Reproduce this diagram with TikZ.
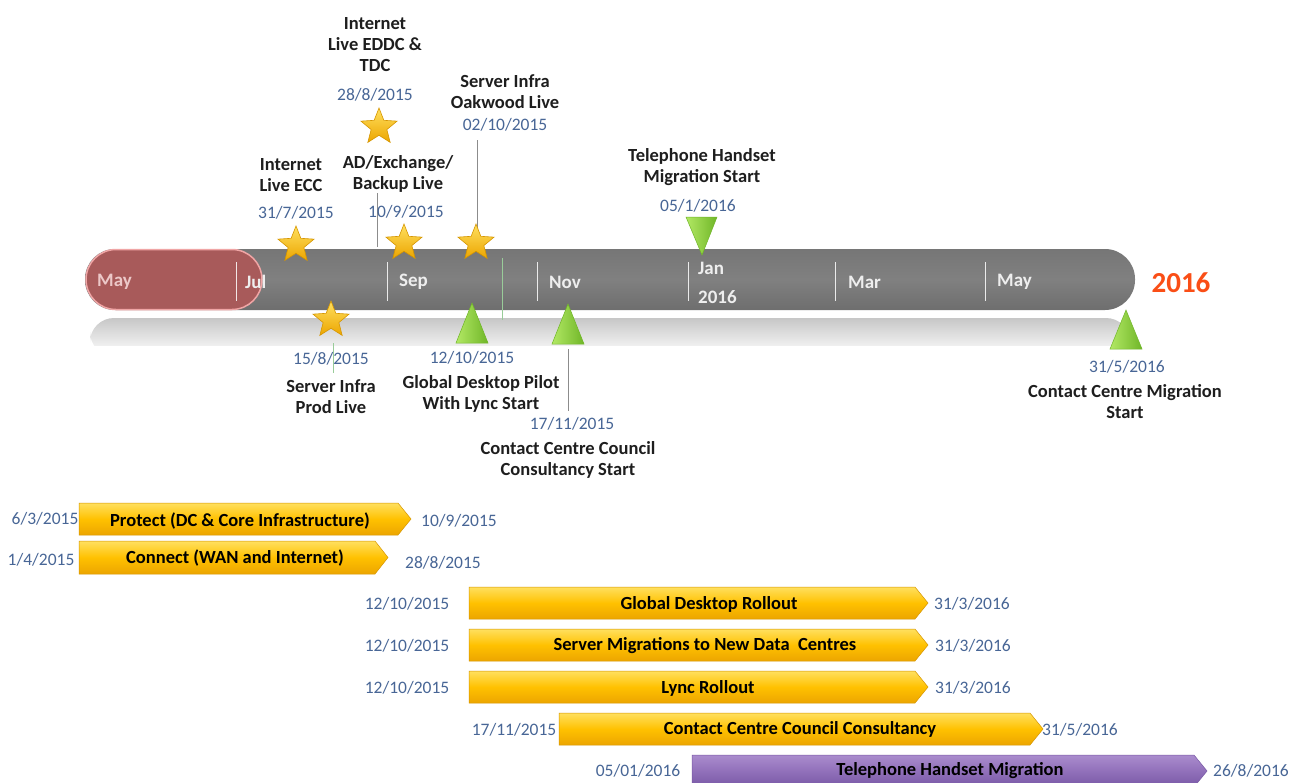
\documentclass[tikz,border=0pt]{standalone}
\usepackage{fontspec}
\setmainfont{Carlito}
\usetikzlibrary{shapes.geometric}
\definecolor{datecol}{RGB}{72,102,150}
\definecolor{labcol}{RGB}{30,30,30}
\definecolor{moncol}{RGB}{238,238,238}
\definecolor{monred}{RGB}{236,200,200}
\definecolor{barcol}{RGB}{128,128,128}
\definecolor{bartop}{RGB}{118,118,118}
\definecolor{barbot}{RGB}{110,110,110}
\definecolor{redbar}{RGB}{168,90,90}
\definecolor{redrim}{RGB}{240,165,165}
\definecolor{yearcol}{RGB}{250,78,22}
\definecolor{goldtop}{RGB}{255,224,95}
\definecolor{goldmid}{RGB}{255,193,0}
\definecolor{goldbot}{RGB}{236,165,0}
\definecolor{goldedge}{RGB}{214,150,0}
\definecolor{purtop}{RGB}{170,140,205}
\definecolor{purmid}{RGB}{145,112,186}
\definecolor{purbot}{RGB}{120,88,165}
\definecolor{trilight}{RGB}{178,232,100}
\definecolor{tridark}{RGB}{112,182,40}
\begin{document}
\begin{tikzpicture}[x=1pt,y=-1pt,
  lbl/.style={font=\bfseries\fontsize{18.5}{21}\selectfont, text=labcol, align=center, inner sep=0},
  datelbl/.style={font=\fontsize{17.5}{20}\selectfont, text=datecol, inner sep=0},
  mon/.style={font=\bfseries\fontsize{19}{22}\selectfont, text=moncol, anchor=west, inner sep=0},
  starnode/.style={star, star points=5, star point ratio=2.3, minimum size=38pt, inner sep=0,
     draw=goldedge, line width=0.6pt, top color=goldtop, bottom color=goldbot},
  tri/.style={left color=trilight, right color=tridark, draw=tridark, line width=0.5pt},
  goldbar/.style={top color=goldtop, bottom color=goldbot, middle color=goldmid, draw=goldedge, line width=0.5pt},
  purbar/.style={top color=purtop, bottom color=purbot, middle color=purmid, draw=purbot, line width=0.5pt},
  gtxt/.style={font=\bfseries\fontsize{18.5}{21}\selectfont, text=black, inner sep=0},
  lead/.style={draw=black!45, line width=0.8pt},
  faint/.style={draw=green!50!black!40, line width=0.6pt},
  tick/.style={draw=white, opacity=0.85, line width=1pt}
]
\path[use as bounding box] (0,0) rectangle (1290,782);
\clip (0,0) rectangle (1290,782);
\fill[white] (0,0) rectangle (1290,782);

% reflection under the timeline
\shade[top color=black!22, bottom color=white, rounded corners=24] (90,318) rectangle (1130,356);
\fill[white] (80,346) rectangle (1140,360);

% main timeline bar
\shade[top color=bartop, bottom color=barbot, middle color=barcol, rounded corners=30] (85,249) rectangle (1135,310);
\fill[redbar, draw=redrim, line width=1.5pt, rounded corners=30] (86,249.5) rectangle (262,309.5);

% month ticks
\foreach \x in {236,387,537,688,835,985} \draw[tick] (\x,262) -- (\x,301);
\coordinate (g1) at (502,258); \coordinate (g2) at (502,320);
\draw[faint] (g1) -- (g2);

% month labels
\node[mon, text=monred] (mMay) at (97,282) {May};
\node[mon] (mJul) at (245,282) {Jul};
\node[mon] (mSep) at (399,282) {Sep};
\node[mon] (mNov) at (549,282) {Nov};
\node[mon] (mJan) at (698,268) {Jan};
\node[mon] (mJan2) at (698,297) {2016};
\node[mon] (mMar) at (848,282) {Mar};
\node[mon] (mMay2) at (997,282) {May};
\node[font=\bfseries\fontsize{29}{32}\selectfont, text=yearcol, inner sep=0] (year) at (1181,283) {2016};

% connector lines
\coordinate (l1a) at (377,160); \coordinate (l1b) at (377,247);
\draw[lead] (l1a) -- (l1b);
\coordinate (l2a) at (477,140); \coordinate (l2b) at (477,232);
\draw[lead] (l2a) -- (l2b);
\coordinate (l3a) at (568,349); \coordinate (l3b) at (568,411);
\draw[lead] (l3a) -- (l3b);
\coordinate (l4a) at (333,343); \coordinate (l4b) at (333,373);
\draw[faint] (l4a) -- (l4b);

% stars
\node[starnode] (s1) at (296,245) {};
\node[starnode] (s2) at (379,127) {};
\node[starnode] (s3) at (404,243) {};
\node[starnode] (s4) at (476,243) {};
\node[starnode] (s5) at (331,320) {};

% triangles
\coordinate (tJan) at (702,255);
\path[tri] (tJan) -- ++(-16,-38) -- ++(31,0) -- cycle;
\coordinate (tGD) at (472,303);
\path[tri] (tGD) -- ++(-16,40) -- ++(32,0) -- cycle;
\coordinate (tCC) at (568,304);
\path[tri] (tCC) -- ++(-16,40) -- ++(32,0) -- cycle;
\coordinate (tCM) at (1126,310);
\path[tri] (tCM) -- ++(-16,39) -- ++(32,0) -- cycle;

% labels above
\node[lbl] (a1) at (291,175) {Internet\\Live ECC};
\node[datelbl] (d1) at (296,213) {31/7/2015};
\node[lbl] (a2) at (375,45) {Internet\\Live EDDC \&\\TDC};
\node[datelbl] (d2) at (375,95) {28/8/2015};
\node[lbl, fill=white, inner sep=1pt] (a3) at (398,173.5) {AD/Exchange/\\Backup Live};
\node[datelbl] (d3) at (406,212) {10/9/2015};
\node[lbl] (a4) at (505,91.5) {Server Infra\\Oakwood Live};
\node[datelbl] (d4) at (505,125) {02/10/2015};
\node[lbl] (a5) at (702,167) {Telephone Handset\\Migration Start};
\node[datelbl] (d5) at (698,206) {05/1/2016};

% labels below
\node[datelbl] (d6) at (331,359) {15/8/2015};
\node[lbl] (b6) at (331,396.5) {Server Infra\\Prod Live};
\node[datelbl] (d7) at (472,358) {12/10/2015};
\node[lbl] (b7) at (481,393.5) {Global Desktop Pilot\\With Lync Start};
\node[datelbl] (d8) at (572,424) {17/11/2015};
\node[lbl] (b8) at (568,459.5) {Contact Centre Council\\Consultancy Start};
\node[datelbl] (d9) at (1127,367) {31/5/2016};
\node[lbl] (b9) at (1125,402) {Contact Centre Migration\\Start};

% gantt bars
\path[goldbar] (79,503) -- (398,503) -- (411,519) -- (398,535) -- (79,535) -- cycle;
\node[gtxt] (g1t) at (240,521) {Protect (DC \& Core Infrastructure)};
\node[datelbl] (g1s) at (45,519) {6/3/2015};
\node[datelbl] (g1e) at (459,521) {10/9/2015};

\path[goldbar] (79,541) -- (375,541) -- (388,557.5) -- (375,574) -- (79,574) -- cycle;
\node[gtxt] (g2t) at (235,558) {Connect (WAN and Internet)};
\node[datelbl] (g2s) at (41,560) {1/4/2015};
\node[datelbl] (g2e) at (443,563) {28/8/2015};

\path[goldbar] (469,587) -- (915,587) -- (928,603) -- (915,619) -- (469,619) -- cycle;
\node[gtxt] (g3t) at (709,604) {Global Desktop Rollout};
\node[datelbl] (g3s) at (407,604) {12/10/2015};
\node[datelbl] (g3e) at (972,604) {31/3/2016};

\path[goldbar] (469,629) -- (915,629) -- (928,645) -- (915,661) -- (469,661) -- cycle;
\node[gtxt] (g4t) at (705,646) {Server Migrations to New Data\ \ Centres};
\node[datelbl] (g4s) at (407,646) {12/10/2015};
\node[datelbl] (g4e) at (973,646) {31/3/2016};

\path[goldbar] (469,671) -- (915,671) -- (928,687) -- (915,703) -- (469,703) -- cycle;
\node[gtxt] (g5t) at (708,688) {Lync Rollout};
\node[datelbl] (g5s) at (407,688) {12/10/2015};
\node[datelbl] (g5e) at (973,688) {31/3/2016};

\path[goldbar] (559,713) -- (1030,713) -- (1043,729) -- (1030,745) -- (559,745) -- cycle;
\node[gtxt] (g6t) at (800,729) {Contact Centre Council Consultancy};
\node[datelbl] (g6s) at (514,730) {17/11/2015};
\node[datelbl] (g6e) at (1080,730) {31/5/2016};

\path[purbar] (692,755) -- (1194,755) -- (1207,771) -- (1194,787) -- (692,787) -- cycle;
\node[gtxt] (g7t) at (950,771) {Telephone Handset Migration};
\node[datelbl] (g7s) at (638,771) {05/01/2016};
\node[datelbl] (g7e) at (1251,771) {26/8/2016};
\end{tikzpicture}
\end{document}
